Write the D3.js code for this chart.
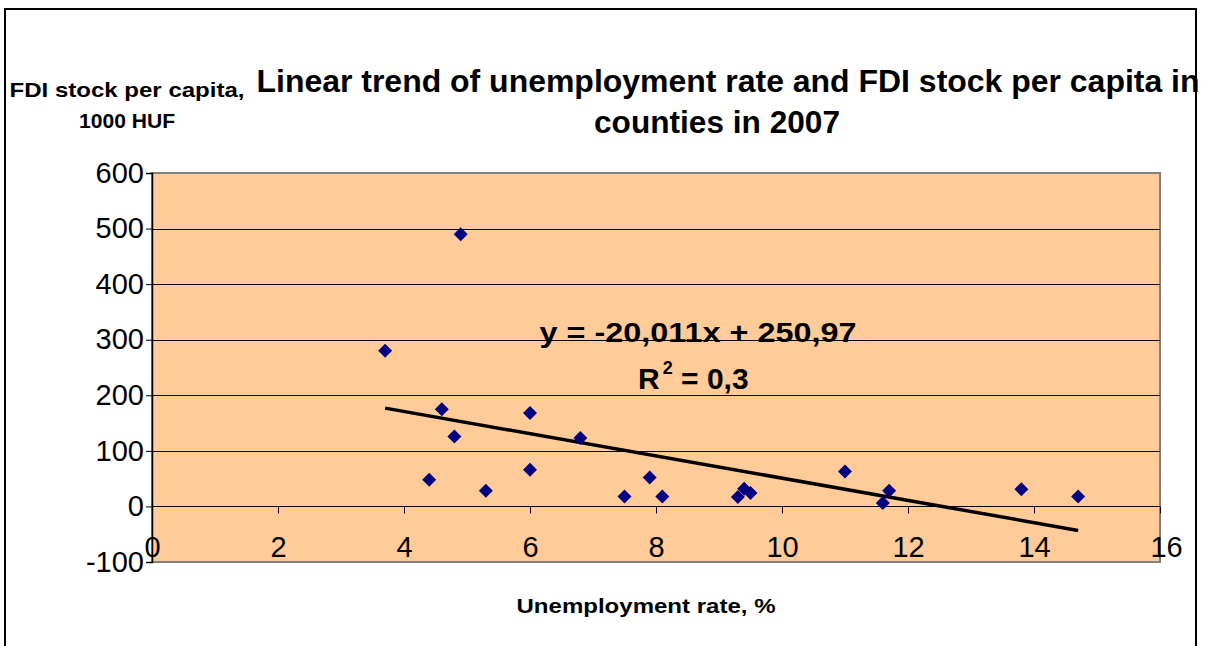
<!DOCTYPE html>
<html>
<head>
<meta charset="utf-8">
<script src="https://cdn.jsdelivr.net/npm/d3@7"></script>
<style>
  body { margin: 0; background: #fff; }
  svg text { font-family: "Liberation Sans", Arial, sans-serif; }
</style>
</head>
<body>
<div id="chart"></div>
<script>
// unemployment rate (%) and FDI stock per capita (1000 HUF), counties 2007
var unemployment = [3.7, 4.9, 4.6, 4.8, 4.4, 5.3, 6.0, 6.0, 6.8, 7.5, 7.9, 8.1, 9.3, 9.4, 9.5, 11.0, 11.6, 11.7, 13.8, 14.7];
var fdiStock = [280, 490, 175, 126, 48, 28, 168, 66, 123, 18, 52, 18, 17, 32, 24, 63, 6, 28, 31, 18];
var xTicks = [0, 2, 4, 6, 8, 10, 12, 14, 16];
var yTicks = [-100, 0, 100, 200, 300, 400, 500, 600];
var trend = {slope: -20.011, intercept: 250.97, r2: "0,3"};

var W = 1210, H = 646;
var svg = d3.select("#chart").append("svg")
  .attr("width", W)
  .attr("height", H);

// outer frame
svg.append("rect")
  .attr("x", 5).attr("y", 9)
  .attr("width", 1191).attr("height", 650)
  .attr("fill", "#fff")
  .attr("stroke", "#000")
  .attr("stroke-width", 2);

var x = d3.scaleLinear().domain([0, 16]).range([152, 1160]);
var y = d3.scaleLinear().domain([-100, 600]).range([562, 173]);

// plot area
svg.append("rect")
  .attr("x", x(0)).attr("y", y(600))
  .attr("width", x(16) - x(0)).attr("height", y(-100) - y(600))
  .attr("fill", "#FFCC99")
  .attr("stroke", "#808080")
  .attr("stroke-width", 2);

// gridlines
svg.append("g")
  .selectAll("line")
  .data(yTicks.filter(function(d) { return d > -100 && d < 600; }))
  .enter().append("line")
  .attr("x1", x(0)).attr("x2", x(16))
  .attr("y1", function(d) { return Math.round(y(d)) + 0.5; })
  .attr("y2", function(d) { return Math.round(y(d)) + 0.5; })
  .attr("stroke", "#000")
  .attr("stroke-width", 1);

// y axis
var yAxis = d3.axisLeft(y)
  .tickValues(yTicks)
  .tickSize(6)
  .tickPadding(2)
  .tickFormat(function(d) { return String(d); });
var gy = svg.append("g")
  .attr("transform", "translate(" + x(0) + ",0)")
  .call(yAxis);
gy.select(".domain").attr("stroke", "#000").attr("stroke-width", 1.5);
gy.selectAll("text")
  .attr("font-size", 29)
  .attr("font-family", "Liberation Sans, Arial, sans-serif")
  .attr("fill", "#000");

// x axis sits on the zero line, labels below inside the plot
var xAxis = d3.axisBottom(x)
  .tickValues(xTicks)
  .tickSize(7)
  .tickPadding(23)
  .tickFormat(function(d) { return String(d); });
var gx = svg.append("g")
  .attr("transform", "translate(0," + (Math.round(y(0)) + 0.5) + ")")
  .call(xAxis);
gx.select(".domain").remove();
gx.selectAll(".tick line").attr("stroke", "#000");
gx.selectAll(".tick").filter(function(d) { return d === 0; }).select("line").remove();
gx.selectAll("text")
  .attr("font-size", 29)
  .attr("font-family", "Liberation Sans, Arial, sans-serif")
  .attr("fill", "#000");
gx.selectAll(".tick").filter(function(d) { return d === 16; }).select("text").attr("dx", 6);

// trend line
var tx = [d3.min(unemployment), d3.max(unemployment)];
svg.append("line")
  .attr("x1", x(tx[0])).attr("y1", y(trend.slope * tx[0] + trend.intercept))
  .attr("x2", x(tx[1])).attr("y2", y(trend.slope * tx[1] + trend.intercept))
  .attr("stroke", "#000")
  .attr("stroke-width", 3.5);

// points
var diamond = d3.symbol().type(d3.symbolDiamond2).size(125);
svg.append("g")
  .selectAll("path")
  .data(unemployment)
  .enter().append("path")
  .attr("d", diamond)
  .attr("transform", function(d, i) { return "translate(" + x(d) + "," + y(fdiStock[i]) + ")"; })
  .attr("fill", "#000080");

// bold label helper, stretched to the width seen in the picture
function label(cx, by, size, len, txt) {
  return svg.append("text")
    .attr("x", cx - len / 2).attr("y", by)
    .attr("font-size", size).attr("font-weight", "bold")
    .attr("textLength", len)
    .attr("lengthAdjust", "spacingAndGlyphs")
    .text(txt);
}

// equation
label(698, 342, 28, 317, "y = -20,011x + 250,97");
var r2 = svg.append("text")
  .attr("x", 638).attr("y", 389)
  .attr("font-size", 30).attr("font-weight", "bold");
r2.append("tspan").text("R");
r2.append("tspan").attr("font-size", 18).attr("dy", -15).attr("dx", 3).text("2");
r2.append("tspan").attr("dy", 15).text(" = " + trend.r2);

// title
label(728, 92, 31, 943, "Linear trend of unemployment rate and FDI stock per capita in");
label(717, 133, 31, 246, "counties in 2007");

// y axis title
label(127, 97, 21, 235, "FDI stock per capita,");
label(127, 128, 21, 96, "1000 HUF");

// x axis title
label(646, 613, 20, 259, "Unemployment rate, %");
</script>
</body>
</html>
